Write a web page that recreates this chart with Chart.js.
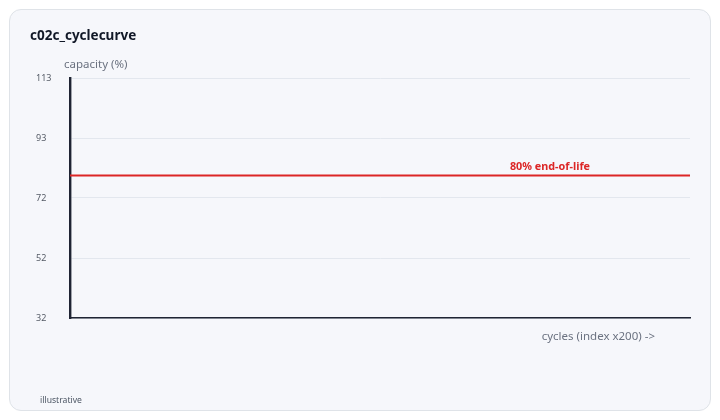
<!DOCTYPE html>
<html>
<head>
<meta charset="utf-8">
<script src="https://cdn.jsdelivr.net/npm/chart.js@4"></script>
<style>
  html, body { margin: 0; padding: 0; background: #ffffff; }
  body { width: 720px; height: 420px; position: relative; overflow: hidden; font-family: "Noto Sans", sans-serif; }
  .card {
    position: absolute; left: 9px; top: 9px; width: 700px; height: 400px;
    background: #f6f7fb; border: 1px solid #dfe3e8; border-radius: 12px;
  }
  .card h1 {
    position: absolute; left: 20px; top: 16px; margin: 0;
    font-size: 13.5px; font-weight: 700; color: #111827;
  }
  .card .foot {
    position: absolute; left: 30px; top: 384px;
    font-size: 8.6px; color: #4b5563;
  }
  #chart { position: absolute; left: 0; top: 0; }
</style>
</head>
<body>
<div class="card">
  <canvas id="chart" width="700" height="400"></canvas>
  <h1>c02c_cyclecurve</h1>
  <div class="foot">illustrative</div>
</div>
<script>
// end-of-life reference line
const eolX = [0, 100];
const eolY = [80, 80];
const eolLabel = '80% end-of-life';

// y axis range and labels
const yMin = 31.8;
const yMax = 113;
const yTickLabels = ['32', '52', '72', '93', '113'];

const yTitle = 'capacity (%)';
const xTitle = 'cycles (index x200) ->';

// draws the axis captions and the end-of-life label
const captions = {
  id: 'captions',
  afterDraw(chart) {
    const { ctx, chartArea, scales } = chart;
    ctx.save();
    ctx.fillStyle = '#6b7280';
    ctx.font = '11.5px "Noto Sans", sans-serif';
    ctx.textBaseline = 'middle';
    ctx.textAlign = 'left';
    ctx.fillText(yTitle, chartArea.left - 6, chartArea.top - 13);
    ctx.textAlign = 'right';
    ctx.fillText(xTitle, chartArea.right - 35, chartArea.bottom + 19);

    const y = scales.y.getPixelForValue(eolY[0]);
    ctx.fillStyle = '#dc2626';
    ctx.font = 'bold 10.8px "Noto Sans", sans-serif';
    ctx.textAlign = 'right';
    ctx.textBaseline = 'bottom';
    ctx.fillText(eolLabel, chartArea.right - 100, y - 3);
    ctx.restore();
  }
};

new Chart(document.getElementById('chart'), {
  type: 'line',
  data: {
    datasets: [{
      label: eolLabel,
      data: eolX.map((x, i) => ({ x: x, y: eolY[i] })),
      borderColor: '#dc2626',
      borderWidth: 2,
      pointRadius: 0,
      fill: false
    }]
  },
  options: {
    responsive: false,
    animation: false,
    layout: { padding: { left: 26, top: 68, right: 20, bottom: 92 } },
    plugins: {
      legend: { display: false },
      tooltip: { enabled: false }
    },
    scales: {
      x: {
        type: 'linear',
        min: eolX[0],
        max: eolX[eolX.length - 1],
        ticks: { display: false },
        grid: { display: false, drawTicks: false },
        border: { display: true, color: '#1f2433', width: 1.6 },
        afterFit(scale) { scale.height = 0; }
      },
      y: {
        min: yMin,
        max: yMax,
        afterBuildTicks(scale) {
          const step = (yMax - yMin) / (yTickLabels.length - 1);
          scale.ticks = yTickLabels.map((t, i) => ({ value: yMin + i * step }));
        },
        ticks: {
          callback: (v, i) => yTickLabels[i],
          crossAlign: 'far',
          padding: 0,
          color: '#555b66',
          font: { family: '"Noto Sans", sans-serif', size: 9 }
        },
        grid: { color: '#e3e7ee', lineWidth: 1, drawTicks: false },
        border: { display: true, color: '#1f2433', width: 2.4 },
        afterFit(scale) { scale.width = 34; }
      }
    }
  },
  plugins: [captions]
});
</script>
</body>
</html>
